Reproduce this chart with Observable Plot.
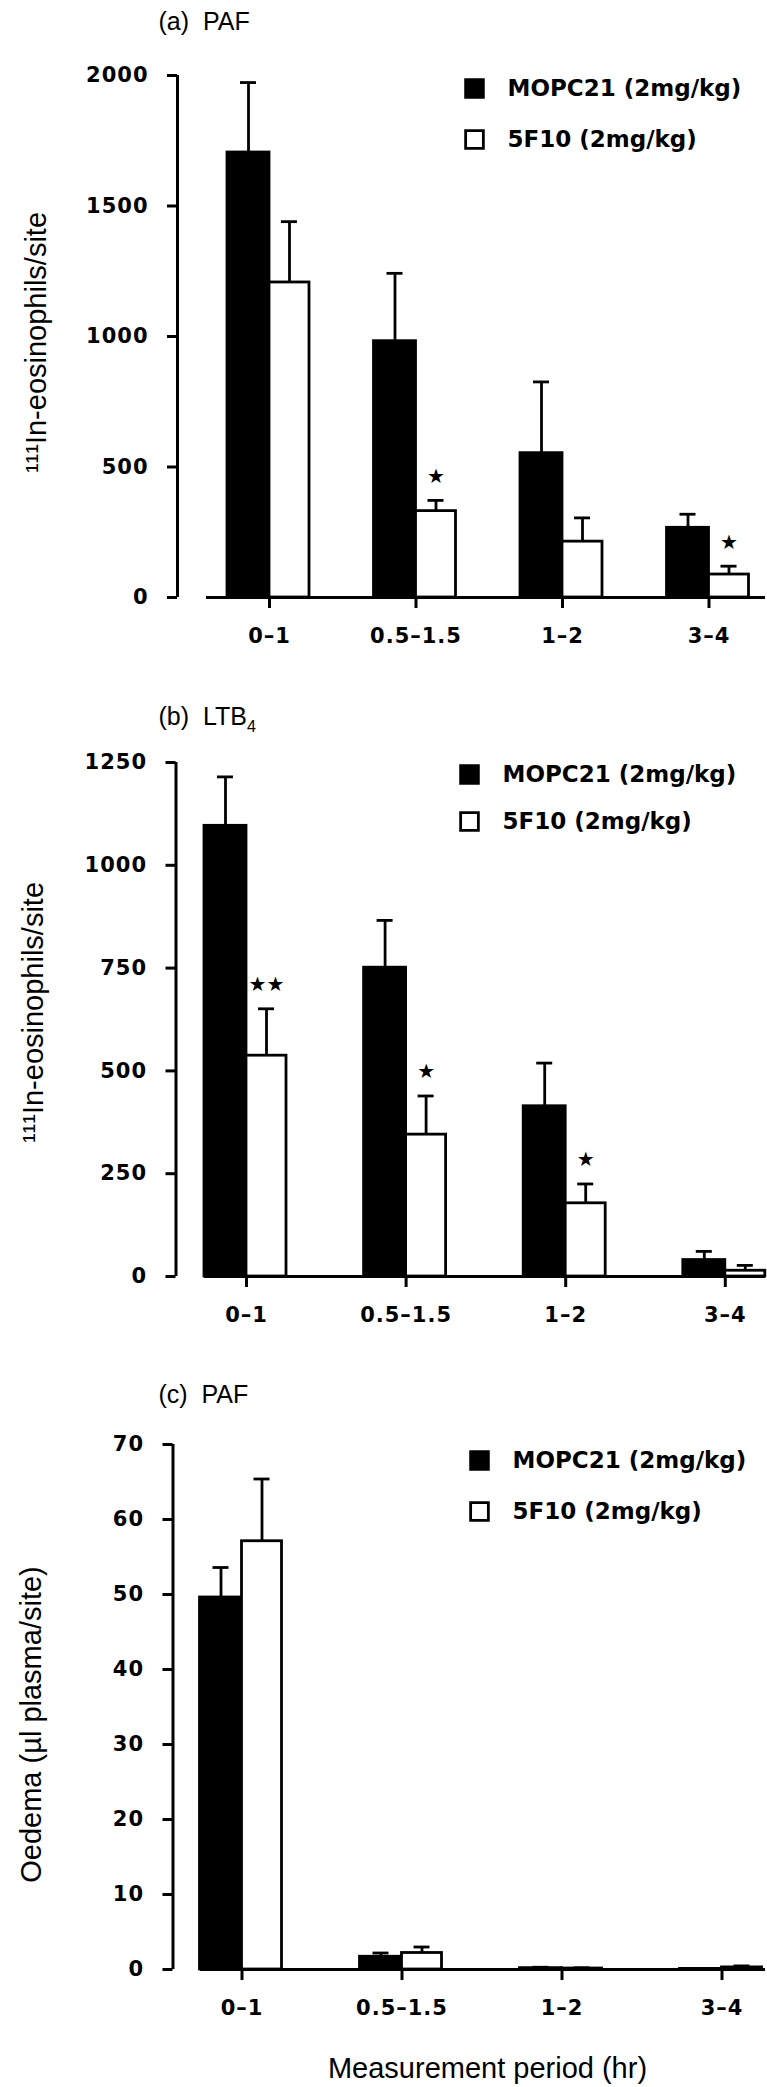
<!DOCTYPE html>
<html><head><meta charset="utf-8">
<script src="https://cdn.jsdelivr.net/npm/d3@7"></script>
<script src="https://cdn.jsdelivr.net/npm/@observablehq/plot@0.6"></script>
<style>
body{margin:0;background:#fff;}
#chart{width:767px;}
#chart svg{display:block;}
#chart g[aria-label="y-axis tick label"], #chart g[aria-label="x-axis tick label"]{letter-spacing:1px;}
#chart g[aria-label="legend label"]{letter-spacing:1.3px;}
#chart g[aria-label="axis title"]{letter-spacing:0.4px;}
</style></head><body><div id="chart"></div>
<script>
// ---- data ----
const categories = ["0\u20131", "0.5\u20131.5", "1\u20132", "3\u20134"];
const seriesNames = ["MOPC21 (2mg/kg)", "5F10 (2mg/kg)"];

// (a) PAF, 111In-eosinophils/site
const aMopcMean = [1705, 982, 553, 267];
const aMopcSem  = [268, 260, 273, 52];
const a5f10Mean = [1207, 331, 214, 88];
const a5f10Sem  = [233, 41, 91, 32];
const aSig      = ["", "*", "", "*"];
const aTicks    = [0, 500, 1000, 1500, 2000];

// (b) LTB4, 111In-eosinophils/site
const bMopcMean = [1096, 751, 414, 40];
const bMopcSem  = [119, 115, 105, 21];
const b5f10Mean = [537, 345, 178, 14];
const b5f10Sem  = [114, 94, 47, 13];
const bSig      = ["**", "*", "*", ""];
const bTicks    = [0, 250, 500, 750, 1000, 1250];

// (c) PAF, oedema
const cMopcMean = [49.6, 1.7, 0.18, 0.08];
const cMopcSem  = [4.0, 0.5, 0.12, 0.05];
const c5f10Mean = [57.1, 2.2, 0.13, 0.28];
const c5f10Sem  = [8.3, 0.8, 0.1, 0.2];
const cSig      = ["", "", "", ""];
const cTicks    = [0, 10, 20, 30, 40, 50, 60, 70];

const yLabelEos = "\u00B9\u00B9\u00B9In-eosinophils/site";
const yLabelOed = "Oedema (\u00B5l plasma/site)";
const xTitle = "Measurement period (hr)";

// ---- layout (page pixels) ----
const W = 767;
const panels = [
  {title: "(a)\u00A0\u00A0PAF", ylabel: yLabelEos, m0: aMopcMean, s0: aMopcSem, m1: a5f10Mean, s1: a5f10Sem, sig: aSig, ticks: aTicks,
   svgTop: 0, svgH: 672, topY: 75, zeroY: 597, axisX: 177, c0: 269, step: 146.5, baseStart: 206, baseEnd: 765,
   titleY: 21, ylabX: 36, ylabY: 342, legSqX: 474, legTxtX: 507, legY: [88, 139]},
  {title: "(b)\u00A0\u00A0LTB4", ylabel: yLabelEos, m0: bMopcMean, s0: bMopcSem, m1: b5f10Mean, s1: b5f10Sem, sig: bSig, ticks: bTicks,
   svgTop: 672, svgH: 678, topY: 762, zeroY: 1276, axisX: 175.5, c0: 246, step: 159.6, baseStart: 204, baseEnd: 765,
   titleY: 716, ylabX: 33, ylabY: 1012, legSqX: 469, legTxtX: 502, legY: [774, 821]},
  {title: "(c)\u00A0\u00A0PAF", ylabel: yLabelOed, m0: cMopcMean, s0: cMopcSem, m1: c5f10Mean, s1: c5f10Sem, sig: cSig, ticks: cTicks,
   svgTop: 1350, svgH: 737, topY: 1444, zeroY: 1969, axisX: 172.5, c0: 241.5, step: 160, baseStart: 200, baseEnd: 765,
   titleY: 1394, ylabX: 31, ylabY: 1724, legSqX: 479, legTxtX: 512, legY: [1460, 1511], xTitle: true}
];
const blackW = 42, whiteW = 40, capW = 16;
const LW = 2.8, AXW = 3;
const boldFont = "DejaVu Sans";
const plainFont = "Liberation Sans, Arial, sans-serif";

function makePanel(P) {
  const st = P.step;
  const rows = categories.map((c, i) => [
    {i, s: 0, x1: i - blackW / st, x2: i, xc: i - blackW / (2 * st), v: P.m0[i], top: P.m0[i] + P.s0[i], sig: ""},
    {i, s: 1, x1: i, x2: i + whiteW / st, xc: i + whiteW / (2 * st), v: P.m1[i], top: P.m1[i] + P.s1[i], sig: P.sig[i]}
  ]).flat();
  const xMin = (P.axisX - P.c0) / st, xMax = (P.baseEnd - P.c0) / st;
  const yMax = P.ticks[P.ticks.length - 1];
  const capH = capW / (2 * st);
  const midY = (P.topY + P.zeroY) / 2;
  const marks = [
    Plot.rectY(rows.filter(d => d.s === 0), {x1: "x1", x2: "x2", y: "v", fill: "black", stroke: "black", strokeWidth: LW}),
    Plot.rectY(rows.filter(d => d.s === 1), {x1: "x1", x2: "x2", y: "v", fill: "white", stroke: "black", strokeWidth: LW}),
    Plot.ruleX(rows, {x: "xc", y1: "v", y2: "top", stroke: "black", strokeWidth: LW}),
    Plot.ruleY(rows, {y: "top", x1: d => d.xc - capH, x2: d => d.xc + capH, stroke: "black", strokeWidth: LW}),
    Plot.text(rows.filter(d => d.sig), {x: "xc", y: "top", text: d => d.sig.replace(/\*/g, "\u2605"), dy: -24,
      fontSize: 20, fontFamily: boldFont, fill: "black", lineAnchor: "middle"}),
    Plot.ruleY([0], {x1: (P.baseStart - P.c0) / st, x2: xMax, stroke: "black", strokeWidth: AXW}),
    Plot.ruleX([xMin], {y1: 0, y2: yMax, stroke: "black", strokeWidth: AXW}),
    Plot.axisY({ticks: P.ticks, tickSize: 10, tickPadding: 19, fontSize: 21, fontWeight: "bold", fontFamily: boldFont,
      strokeWidth: AXW, label: null, tickFormat: d => String(d)}),
    Plot.axisX({ticks: [0, 1, 2, 3], tickFormat: i => categories[i], tickSize: 11, tickPadding: 20, fontSize: 21,
      fontWeight: "bold", fontFamily: boldFont, strokeWidth: AXW, label: null}),
    Plot.text([P.title], {frameAnchor: "top-left", textAnchor: "start", lineAnchor: "middle",
      dx: 158 - P.axisX, dy: P.titleY - P.topY, fontSize: 25, fontFamily: plainFont, fill: "black"}),
    Plot.text([P.ylabel], {frameAnchor: "left", rotate: -90, textAnchor: "middle", lineAnchor: "middle",
      dx: P.ylabX - P.axisX, dy: P.ylabY - midY, fontSize: 29, fontFamily: plainFont, fill: "black", ariaLabel: "axis title"}),
    ...seriesNames.map((name, k) => Plot.dot([name], {frameAnchor: "top-left", dx: P.legSqX - P.axisX, dy: P.legY[k] - P.topY,
      symbol: "square", r: 10, fill: k ? "white" : "black", stroke: "black", strokeWidth: LW})),
    ...seriesNames.map((name, k) => Plot.text([name], {frameAnchor: "top-left", dx: P.legTxtX - P.axisX, dy: P.legY[k] - P.topY,
      textAnchor: "start", lineAnchor: "middle", fontSize: 23, fontWeight: "bold", fontFamily: boldFont, fill: "black",
      ariaLabel: "legend label"}))
  ];
  if (P.xTitle) {
    marks.push(Plot.text([xTitle], {frameAnchor: "bottom-left", textAnchor: "middle", lineAnchor: "middle",
      dx: 487 - P.axisX, dy: 2068 - P.zeroY, fontSize: 29, fontFamily: plainFont, fill: "black", ariaLabel: "axis title"}));
  }
  const svg = Plot.plot({
    width: W, height: P.svgH,
    marginLeft: P.axisX, marginRight: W - P.baseEnd,
    marginTop: P.topY - P.svgTop, marginBottom: P.svgTop + P.svgH - P.zeroY,
    x: {type: "linear", domain: [xMin, xMax]},
    y: {type: "linear", domain: [0, yMax]},
    style: {background: "white", color: "black", overflow: "visible"},
    marks
  });
  // subscript in LTB4 title
  svg.querySelectorAll("text").forEach(t => {
    if (t.textContent.endsWith("LTB4")) {
      t.textContent = t.textContent.slice(0, -1);
      const ts = document.createElementNS("http://www.w3.org/2000/svg", "tspan");
      ts.setAttribute("dy", "7");
      ts.setAttribute("font-size", "16");
      ts.textContent = "4";
      t.appendChild(ts);
    }
  });
  return svg;
}

const root = document.getElementById("chart");
panels.forEach(P => root.appendChild(makePanel(P)));
</script>
</body></html>
